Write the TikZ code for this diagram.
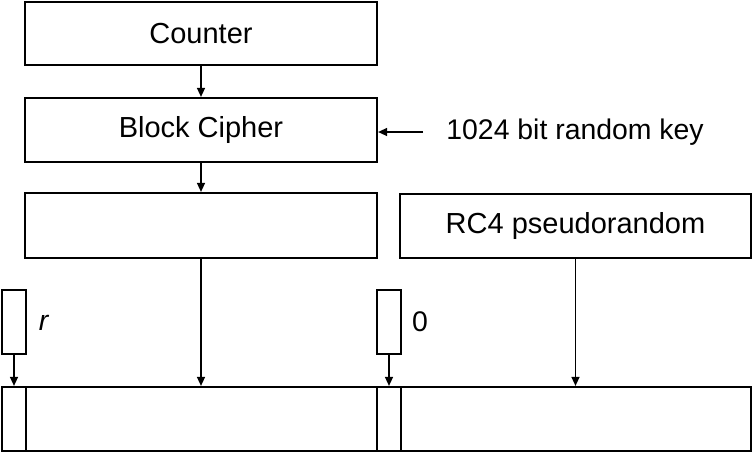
\documentclass[tikz,border=0pt]{standalone}
\usepackage{fontspec}
\setmainfont{Liberation Sans}
\usetikzlibrary{arrows.meta}
\begin{document}
\begin{tikzpicture}[x=0.5pt,y=-0.5pt,
 box/.style={draw,line width=1.1pt,inner sep=0pt,font=\fontsize{14.5}{16}\selectfont},
 arr/.style={-{Triangle[length=4.5pt,width=4pt]},line width=0.65pt},
 lbl/.style={inner sep=0pt,font=\fontsize{14.2}{16}\selectfont}]
\useasboundingbox (0,0) rectangle (752,452);
\node[box,minimum width=176pt,minimum height=31.5pt] (counter) at (201,33.5) {Counter};
\node[box,minimum width=176pt,minimum height=32pt] (cipher) at (201,130) {Block Cipher};
\node[box,minimum width=176pt,minimum height=32.5pt] (empty) at (201,225.5) {};
\node[box,minimum width=175.5pt,minimum height=32pt] (rc4) at (575.5,226) {RC4 pseudorandom};
\node[lbl,anchor=west] (keytxt) at (446,132) {1024 bit random key};
\node[box,minimum width=12pt,minimum height=32pt] (rbox) at (14,322) {};
\node[box,minimum width=12pt,minimum height=32pt] (zbox) at (389,322) {};
\node[lbl] (rlbl) at (44,323) {\textit{r}};
\node[lbl] (zlbl) at (420,322) {0};
\node[box,minimum width=12pt,minimum height=32pt] (seg1) at (14,419) {};
\node[box,minimum width=175.5pt,minimum height=32pt] (seg2) at (201.5,419) {};
\node[box,minimum width=12pt,minimum height=32pt] (seg3) at (389,419) {};
\node[box,minimum width=175pt,minimum height=32pt] (seg4) at (576,419) {};
\draw[arr] (counter.south) -- (cipher.north);
\draw[arr] (cipher.south) -- (empty.north);
\draw[arr] (empty.south) -- (empty.south |- seg2.north);
\draw[arr] (rc4.south) -- (rc4.south |- seg4.north);
\draw[arr] (rbox.south) -- (seg1.north);
\draw[arr] (zbox.south) -- (seg3.north);
\draw[arr,shorten <=11.5pt] (keytxt.west) -- (keytxt.west -| cipher.east);
\end{tikzpicture}
\end{document}
